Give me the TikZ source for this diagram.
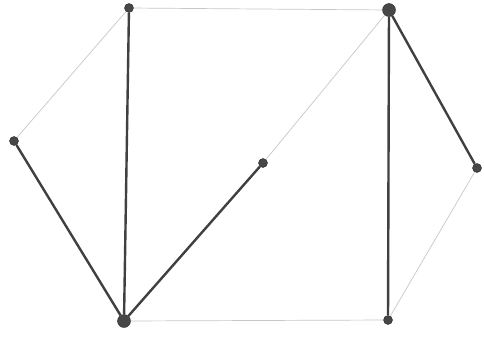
\documentclass[tikz,border=0pt]{standalone}
\begin{document}
\begin{tikzpicture}[x=1pt,y=-1pt,
  vtx/.style={circle,fill=black!72,draw=black!85,inner sep=0pt,minimum size=9pt},
  bigvtx/.style={vtx,minimum size=13pt},
  thick edge/.style={draw=black!75,line width=2.4pt},
  faint edge/.style={draw=black!22,line width=0.7pt}]
\useasboundingbox (0,0) rectangle (484,338);
\node[vtx] (A) at (129,8) {};
\node[vtx] (B) at (14,141) {};
\node[vtx] (C) at (263,163) {};
\node[bigvtx] (D) at (124,321) {};
\node[bigvtx] (E) at (389,10) {};
\node[vtx] (F) at (477,168) {};
\node[vtx] (G) at (388,320) {};
\draw[faint edge] (B) -- (A);
\draw[faint edge] (A) -- (E);
\draw[faint edge] (C) -- (E);
\draw[faint edge] (D) -- (G);
\draw[faint edge] (G) -- (F);
\draw[thick edge] (D) -- (B);
\draw[thick edge] (D) -- (A);
\draw[thick edge] (D) -- (C);
\draw[thick edge] (E) -- (G);
\draw[thick edge] (E) -- (F);
\end{tikzpicture}
\end{document}
